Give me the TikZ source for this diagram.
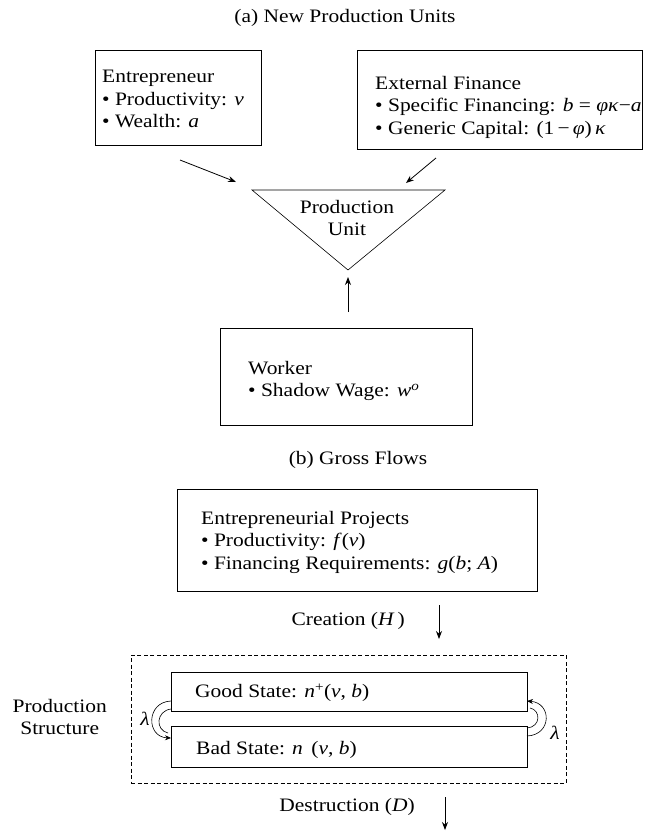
\documentclass[tikz,border=0pt]{standalone}
\usepackage{fontspec}
\setmainfont{Liberation Serif}[FakeStretch=1.13]
\usetikzlibrary{arrows.meta}
\begin{document}
\begin{tikzpicture}[x=1pt,y=-1pt,
  every node/.style={font=\fontsize{19}{22.5}\selectfont, inner sep=0pt},
  box/.style={draw, line width=0.7pt},
  txt/.style={anchor=west, align=left},
  arr/.style={-{Stealth[length=8pt,width=6pt]}, line width=0.8pt},
  loop/.style={line width=0.6pt}]
\useasboundingbox (0,0) rectangle (646,831);

% (a) New Production Units
\node (ta) at (345,18) {(a) New Production Units};

\node[box, minimum width=166pt, minimum height=95pt] (ent) at (178,97.5) {};
\node[txt] (enttxt) at (102,99) {Entrepreneur\\• Productivity: \textit{v}\\• Wealth: \textit{a}};

\node[box, minimum width=285pt, minimum height=99pt] (ext) at (499.5,99.5) {};
\node[txt] (exttxt) at (375,107) {External Finance\\• Specific Financing: \textit{b} = \textit{φκ}−\textit{a}\\• Generic Capital: (1\,−\,\textit{φ})\,\textit{κ}};

\coordinate (tl) at (252,190);
\coordinate (tr) at (445,190);
\coordinate (tb) at (348,270);
\draw[line width=0.6pt] (tl) -- (tr) -- (tb) -- cycle;
\node[align=center] (pu) at (347,218) {Production\\Unit};

\coordinate (a1s) at (180,160);
\coordinate (a1e) at (236,182);
\draw[arr] (a1s) -- (a1e);
\coordinate (a2s) at (436,158);
\coordinate (a2e) at (406,183);
\draw[arr] (a2s) -- (a2e);

\node[box, minimum width=252pt, minimum height=97pt] (wrk) at (346,376.5) {};
\coordinate (a3s) at (348,312);
\coordinate (a3e) at (348,277);
\draw[arr] (a3s) -- (a3e);
\node[txt] (wrktxt) at (248,381) {Worker\\• Shadow Wage: \textit{w}\textsuperscript{\textit{o}}};

% (b) Gross Flows
\node (tb2) at (358,460) {(b) Gross Flows};

\node[box, minimum width=360pt, minimum height=102pt] (ep) at (357,540) {};
\node[txt] (eptxt) at (201,542) {Entrepreneurial Projects\\• Productivity: \textit{f}(\textit{v})\\• Financing Requirements: \textit{g}(\textit{b}; \textit{A})};

\node[anchor=east] (cre) at (405,621) {Creation (\textit{H}\,)};
\coordinate (c1s) at (439,605);
\coordinate (c1e) at (439,639);
\draw[arr] (c1s) -- (c1e);

\node[draw, line width=0.7pt, dash pattern=on 4pt off 2.5pt, minimum width=435pt, minimum height=128pt] (ps) at (348.5,719) {};
\node[box, minimum width=356pt, minimum height=39pt] (good) at (349,691.5) {};
\node[box, minimum width=356pt, minimum height=41pt] (bad) at (349,746.5) {};
\node[txt] (goodtxt) at (195,693) {Good State: \textit{n}\textsuperscript{+}(\textit{v}, \textit{b})};
\node[txt] (badtxt) at (196,750) {Bad State: \textit{n}\hspace{0.45em}(\textit{v}, \textit{b})};

\node[align=center, anchor=east] (pstxt) at (107,717) {Production\\Structure};

% left loop: good -> bad
\coordinate (l1s) at (171,701);
\coordinate (l1e) at (171,738);
\coordinate (l2s) at (171,709);
\coordinate (l2e) at (168,733);
\draw[loop, -{Stealth[length=6pt,width=5pt]}] (l1s) .. controls (146,702) and (146,737) .. (l1e);
\draw[loop] (l2s) .. controls (156,711) and (155,730) .. (l2e);
\node (lamL) at (145,719) {\textit{λ}};

% right loop: bad -> good
\coordinate (r1s) at (527,736);
\coordinate (r1e) at (527,701);
\coordinate (r2s) at (527,728);
\coordinate (r2e) at (530,708);
\draw[loop, -{Stealth[length=6pt,width=5pt]}] (r1s) .. controls (552,735) and (552,703) .. (r1e);
\draw[loop] (r2s) .. controls (541,727) and (541,710) .. (r2e);
\node (lamR) at (555,733) {\textit{λ}};

\node[anchor=east] (des) at (415,807) {Destruction (\textit{D})};
\coordinate (d1s) at (445,797);
\coordinate (d1e) at (445,830);
\draw[arr] (d1s) -- (d1e);
\end{tikzpicture}
\end{document}
